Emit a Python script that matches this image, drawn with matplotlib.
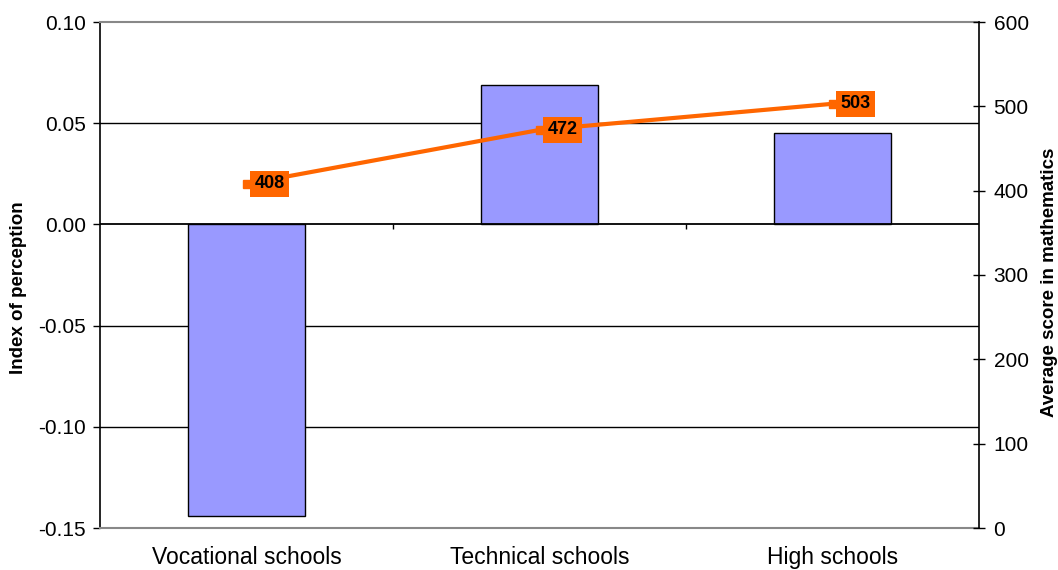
import matplotlib.pyplot as plt

plt.rcParams['font.family'] = ['Liberation Sans', 'DejaVu Sans']

schools = ["Vocational schools", "Technical schools", "High schools"]
perception = [-0.144, 0.069, 0.045]
math_score = [408, 472, 503]

bar_color = '#9999FF'
line_color = '#FF6600'

fig = plt.figure(figsize=(10.58, 5.70), dpi=100)
ax = fig.add_axes([100 / 1058, 1 - 528 / 570, 879 / 1058, 506 / 570])

x = list(range(len(schools)))
ax.bar(x, perception, width=0.4, color=bar_color, edgecolor='black', linewidth=1.0, zorder=3)

ax.set_xlim(-0.5, len(schools) - 0.5)
ax.set_ylim(-0.15, 0.10)
ax.set_yticks([-0.15, -0.10, -0.05, 0.00, 0.05, 0.10])
ax.set_yticklabels(['-0.15', '-0.10', '-0.05', '0.00', '0.05', '0.10'])

# horizontal gridlines, zero line and its category separators
for yv in [-0.10, -0.05, 0.05]:
    ax.axhline(yv, color='black', lw=1.0, zorder=1)
ax.axhline(0, color='black', lw=1.3, zorder=4)
bounds = [i + 0.5 for i in x[:-1]]
ax.vlines(bounds, -0.0025, 0, color='black', lw=1.0, zorder=4)

ax.set_xticks(x)
ax.set_xticklabels(schools, fontsize=16.5)
ax.tick_params(axis='x', length=0, pad=13)
ax.tick_params(axis='y', labelsize=15, length=5, width=1, direction='out', pad=5)

for side in ['top', 'bottom']:
    ax.spines[side].set_color('#888888')
    ax.spines[side].set_linewidth(1.5)
ax.spines['left'].set_linewidth(1.2)
ax.spines['right'].set_visible(False)
ax.set_ylabel('Index of perception', fontsize=13.5, fontweight='bold')
ax.yaxis.set_label_coords(-0.083, 0.474)

ax2 = ax.twinx()
ax2.set_ylim(0, 600)
ax2.set_yticks([0, 100, 200, 300, 400, 500, 600])
ax2.tick_params(axis='y', labelsize=15, length=9, width=1, direction='inout', pad=6)
for side in ['top', 'bottom', 'left']:
    ax2.spines[side].set_visible(False)
ax2.spines['right'].set_linewidth(1.2)
ax2.plot(x, math_score, color=line_color, lw=3, marker='s', markersize=5.5, zorder=5)
for xi, v in zip(x, math_score):
    ax2.annotate(str(v), (xi, v), xytext=(6, 0), textcoords='offset points',
                 ha='left', va='center', fontsize=13, fontweight='bold',
                 bbox=dict(boxstyle='square,pad=0.25', fc=line_color, ec='none'), zorder=6)
ax2.set_ylabel('Average score in mathematics', fontsize=13.5, fontweight='bold')
ax2.yaxis.set_label_coords(1.0705, 0.486)

fig.savefig('out.png', dpi=100)
